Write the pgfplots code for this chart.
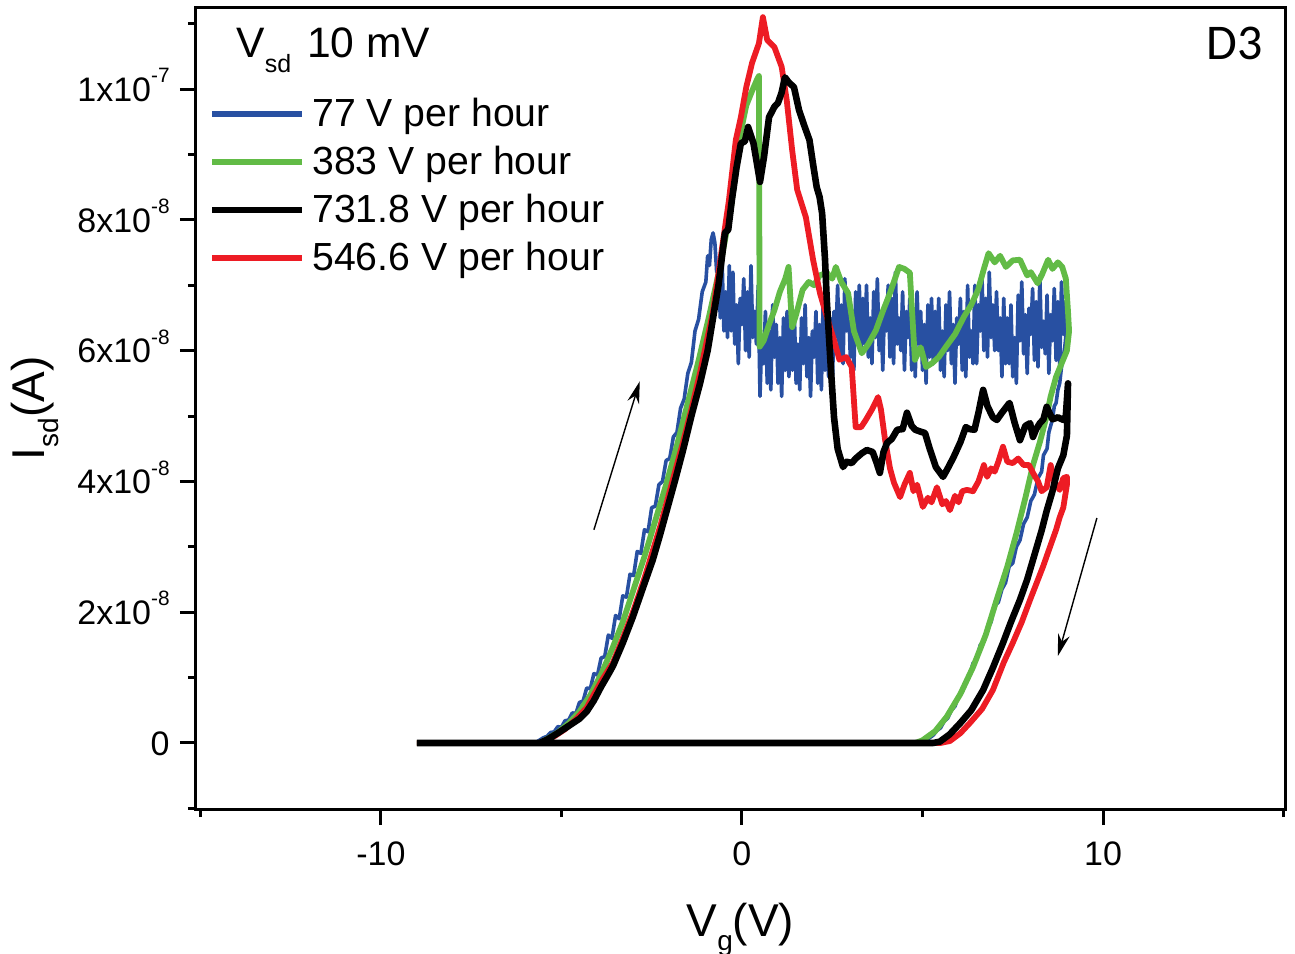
\documentclass[border=0pt]{standalone}
\usepackage{fontspec}
\setmainfont{Liberation Sans}
\newfontfamily\carlito{Carlito}
\usepackage{pgfplots}
\pgfplotsset{compat=1.18}
\usetikzlibrary{arrows.meta}
\definecolor{cblue}{RGB}{40,80,162}
\definecolor{cgreen}{RGB}{98,187,70}
\definecolor{cred}{RGB}{237,28,36}
\newcommand{\sci}[2]{#1x10\raisebox{9.3pt}{\fontsize{10.4}{10.4}\selectfont -#2}}
\begin{document}
\begin{tikzpicture}
\begin{axis}[
  scale only axis, width=544.5pt, height=400.5pt,
  xmin=-15.12, xmax=15.04, ymin=-10.1, ymax=112.4,
  axis line style={line width=1.5pt},
  every tick/.style={line width=1.5pt, black},
  tick align=outside, xtick pos=lower, ytick pos=left,
  major tick length=8pt, minor tick length=4pt,
  xtick={-10,0,10}, xticklabels={-10,0,10},
  minor xtick={-15,-5,5,15},
  ytick={0,20,40,60,80,100},
  yticklabels={0,\sci{2}{8},\sci{4}{8},\sci{6}{8},\sci{8}{8},\sci{1}{7}},
  minor ytick={-10,10,30,50,70,90,110},
  yticklabel style={font=\fontsize{17}{17}\selectfont, anchor=base east, inner sep=0pt, yshift=-6.1pt, xshift=-5pt},
  xticklabel style={font=\fontsize{17}{17}\selectfont, anchor=base, inner sep=0pt, yshift=-20pt},
  xlabel={V\raisebox{-7pt}{\fontsize{14}{14}\selectfont g}(V)},
  ylabel={I\raisebox{-7pt}{\fontsize{14}{14}\selectfont sd}(A)},
  xlabel style={font=\fontsize{23}{23}\selectfont, at={(axis description cs:0.5,-0.1586)}, anchor=base, inner sep=0pt},
  ylabel style={font=\fontsize{23}{23}\selectfont, at={(axis description cs:-0.1387,0.5)}, anchor=base, inner sep=0pt},
  legend style={at={(axis description cs:0.0119,0.8876)}, anchor=north west, draw=none, fill=none, inner sep=0pt,
    font=\fontsize{19.6}{19.6}\selectfont, row sep=6.0pt,
    nodes={inner sep=0pt, text height=14pt, text depth=4pt},
    /tikz/every odd column/.append style={column sep=3.5pt}},
  legend cell align=left,
  legend image code/.code={\draw[#1, line width=3pt] (0pt,1.3pt) -- (45pt,1.3pt);},
  every axis plot/.append style={line join=round},
]
\addlegendimage{cblue}
\addlegendentry{77 V per hour}
\addlegendimage{cgreen}
\addlegendentry{383 V per hour}
\addlegendimage{black}
\addlegendentry{731.8 V per hour}
\addlegendimage{cred}
\addlegendentry{546.6 V per hour}

% 77 V per hour (blue)
\addplot[forget plot, cblue, line width=1.8pt] coordinates {
(-9,0) (-6,0) (-5.7,0.1) (-5.5,0.8) (-5.4,1.0) (-5.3,1.6) (-5.2,1.7) (-5.1,2.5) (-5.0,2.4)
(-4.9,3.4) (-4.8,3.5) (-4.7,4.6) (-4.6,4.5) (-4.5,6.2) (-4.4,6.4) (-4.3,8.4) (-4.2,8.3)
(-4.1,10.6) (-4.0,10.4) (-3.9,13.0) (-3.8,13.2) (-3.7,16.5) (-3.6,16.0) (-3.5,19.5) (-3.4,19.0)
(-3.3,22.5) (-3.2,22.3) (-3.1,25.8) (-3.0,25.6) (-2.9,29.3) (-2.8,29.0) (-2.7,32.6) (-2.6,32.3)
(-2.5,36.0) (-2.4,36.2) (-2.3,39.5) (-2.2,40.0) (-2.1,43.2) (-2.0,43.5) (-1.9,46.8) (-1.8,47.5)
(-1.7,51.2) (-1.6,52.6) (-1.5,56.5) (-1.4,58.2) (-1.3,63.0) (-1.2,64.8) (-1.1,69.0) (-1.0,70.5)
(-0.95,74.5) (-0.9,73) (-0.85,77) (-0.8,78) (-0.75,76.5) (-0.7,72)
(-0.65,72) (-0.60,65) (-0.55,74) (-0.50,63) (-0.45,69) (-0.40,62) (-0.35,73) (-0.30,63)
(-0.25,72) (-0.20,61) (-0.15,67) (-0.10,58) (-0.05,68) (0.00,64) (0.05,71) (0.10,60)
(0.15,69) (0.20,59) (0.25,73) (0.30,62) (0.35,66) (0.40,61) (0.45,70) (0.50,53)
(0.55,62) (0.60,58) (0.65,66) (0.70,55) (0.75,63) (0.80,54) (0.85,67) (0.90,59)
(0.95,64) (1.00,55) (1.05,62) (1.10,53) (1.15,65) (1.20,57) (1.25,66) (1.30,56)
(1.35,64) (1.40,57) (1.45,66) (1.50,55) (1.55,61) (1.60,54) (1.65,65) (1.70,58)
(1.75,67) (1.80,56) (1.85,62) (1.90,53) (1.95,63) (2.00,59) (2.05,66) (2.10,55)
(2.15,64) (2.20,54) (2.25,68) (2.30,57) (2.35,61) (2.40,56) (2.45,65) (2.50,53)
(2.55,66) (2.60,62) (2.65,70) (2.70,59) (2.75,67) (2.80,58) (2.85,71) (2.90,63)
(2.95,68) (3.00,59) (3.05,66) (3.10,57) (3.15,69) (3.20,61) (3.25,70) (3.30,60)
(3.35,68) (3.40,61) (3.45,70) (3.50,59) (3.55,65) (3.60,58) (3.65,69) (3.70,62)
(3.75,71) (3.80,60) (3.85,66) (3.90,57) (3.95,67) (4.00,63) (4.05,70) (4.10,59)
(4.15,68) (4.20,58) (4.25,72) (4.30,61) (4.35,65) (4.40,60) (4.45,69) (4.50,57)
(4.55,66) (4.60,62) (4.65,68) (4.70,57) (4.75,65) (4.80,56) (4.85,69) (4.90,61)
(4.95,66) (5.00,57) (5.05,64) (5.10,55) (5.15,67) (5.20,59) (5.25,68) (5.30,58)
(5.35,66) (5.40,59) (5.45,68) (5.50,57) (5.55,63) (5.60,56) (5.65,67) (5.70,60)
(5.75,69) (5.80,58) (5.85,64) (5.90,55) (5.95,65) (6.00,61) (6.05,68) (6.10,57)
(6.15,66) (6.20,56) (6.25,70) (6.30,59) (6.35,63) (6.40,58) (6.45,70) (6.50,58)
(6.55,67) (6.60,63) (6.65,71) (6.70,60) (6.75,68) (6.80,59) (6.85,72) (6.90,62)
(6.95,67) (7.00,60) (7.05,69) (7.10,60) (7.15,65) (7.20,56) (7.25,68) (7.30,58)
(7.35,65) (7.40,58) (7.45,67) (7.50,56) (7.55,62) (7.60,55) (7.65,68.5) (7.70,61.5)
(7.75,70.5) (7.80,59.5) (7.85,65.5) (7.90,56.5) (7.95,66.5) (8.00,62.5) (8.05,69.5) (8.10,58.5)
(8.15,67.5) (8.20,57.5) (8.25,71.5) (8.30,60.5) (8.35,64.5) (8.40,59.5) (8.45,68.5) (8.50,56.5)
(8.55,65.5) (8.60,61.5) (8.65,69.5) (8.70,58.5) (8.75,67.5) (8.80,57.5) (8.85,70.5) (8.90,62.5)
(8.95,67.5) (9.00,64)
(8.95,61) (8.9,59) (8.85,57.5) (8.8,55) (8.75,54) (8.7,52) (8.65,51.5) (8.6,49.5) (8.5,47.5)
(8.45,45) (8.35,44) (8.3,41.5) (8.2,40.5) (8.1,38) (8.0,37) (7.9,34.5) (7.8,33.5) (7.7,31)
(7.6,30) (7.5,27.5) (7.4,27) (7.3,24.5) (7.2,23.5) (7.1,21.5) (7.0,21) (6.9,18.5) (6.8,17.5)
(6.7,15.5) (6.6,15) (6.5,12.8) (6.4,12.2) (6.3,10.3) (6.2,9.5) (6.1,7.8) (6.0,7.2) (5.9,5.6)
(5.8,5.0) (5.7,3.8) (5.6,3.3) (5.5,2.3) (5.4,1.9) (5.3,1.2) (5.2,0.8) (5.1,0.4) (5.0,0.1)
(4.9,0) (-9,0)
};

% 383 V per hour (green)
\addplot[forget plot, cgreen, line width=2.9pt] coordinates {
(-9,0) (-5.6,0) (-5.4,0.6) (-5.1,1.6) (-4.8,3) (-4.5,4.8) (-4.2,7.3) (-3.9,10.5) (-3.6,14.3)
(-3.3,18.5) (-3.0,23.5) (-2.7,28.5) (-2.4,34) (-2.1,39.5) (-1.8,45.5) (-1.5,52) (-1.2,58.5)
(-0.9,65.5) (-0.6,73) (-0.3,82) (-0.03,93.5) (0.12,97.5) (0.28,99.7) (0.42,101.5) (0.47,102)
(0.49,60.6) (0.6,61.5) (0.75,64) (0.9,66.2) (1.05,69) (1.2,71) (1.29,72.8) (1.39,63.6) (1.5,65.5)
(1.68,69.3) (1.85,70.5) (2.0,70) (2.15,71.5) (2.35,71.9) (2.5,71) (2.6,72.8) (2.75,70.5)
(2.94,68.8) (3.1,63) (3.32,59.6) (3.5,61) (3.71,63.1) (3.9,66) (4.1,68.8) (4.35,72.8) (4.5,72.5)
(4.65,71.9) (4.79,58.6) (4.95,60.5) (5.1,57.5) (5.27,58.1) (5.45,59) (5.65,60.6) (5.9,62.5)
(6.15,65.2) (6.35,67) (6.54,69.3) (6.7,72.5) (6.83,74.9) (7.0,73.5) (7.15,74.5) (7.31,72.8)
(7.5,73.8) (7.7,73.9) (7.9,71.5) (8.0,72) (8.19,70.3) (8.3,71.5) (8.48,73.9) (8.6,72.5)
(8.75,73.5) (8.87,72.8) (8.97,71) (9.03,66) (9.06,63)
(9.0,60) (8.85,58) (8.7,56) (8.55,53) (8.44,50) (8.25,46) (8.06,42.5) (7.85,37.5) (7.6,32)
(7.35,27) (7.06,22) (6.75,16.5) (6.4,11.6) (6.05,7.5) (5.67,4) (5.35,1.8) (5.0,0.4) (4.8,0) (-9,0)
};

% 546.6 V per hour (red)
\addplot[forget plot, cred, line width=2.9pt] coordinates {
(-9,0) (-5.6,0) (-5.4,0.5) (-5.2,1.0) (-4.9,2.1) (-4.6,3.6) (-4.3,5.4) (-3.9,9.4) (-3.57,12.3)
(-3.3,16) (-3.02,20) (-2.7,25.2) (-2.27,33) (-1.95,39.5) (-1.63,46) (-1.4,51) (-1.16,56.6)
(-0.8,66) (-0.53,76.5) (-0.36,83) (-0.17,92.2) (-0.03,95.7) (0.12,100.3) (0.28,104) (0.47,107)
(0.58,111) (0.7,107.5) (0.9,106.4) (1.1,103.4) (1.24,98.3) (1.39,90.7) (1.53,84.6) (1.77,80.4)
(1.97,73.9) (2.16,68.8) (2.35,65.2) (2.55,61.6) (2.7,58.6) (2.89,59) (3.04,57.5) (3.15,48.3)
(3.3,48.3) (3.43,49.4) (3.6,51) (3.77,52.9) (3.85,51) (3.96,46.5) (4.1,42) (4.21,39.8)
(4.38,37.6) (4.5,39.5) (4.65,41.3) (4.75,38.5) (4.85,39.5) (5.01,36.1) (5.15,37.5) (5.25,36.8)
(5.4,39.1) (5.55,36.5) (5.65,37) (5.76,35.6) (5.9,37.8) (6.0,36.8) (6.1,38.5) (6.23,38.7)
(6.4,38.5) (6.55,40) (6.7,42.5) (6.79,40.7) (6.9,42) (7.0,41.5) (7.1,43) (7.23,45.3) (7.35,43)
(7.5,42.8) (7.65,43.5) (7.8,42.5) (7.95,42.5) (8.06,41.3) (8.2,40) (8.3,38.5) (8.44,39.1)
(8.55,42.5) (8.65,40) (8.8,38.7) (8.9,40.5) (9.0,40.7)
(9.0,39.5) (8.9,36) (8.8,34.5) (8.7,32.6) (8.5,29.5) (8.34,27) (8.15,24.3) (7.98,21.9)
(7.75,18.5) (7.5,15.3) (7.25,12.3) (6.95,8.1) (6.65,5.2) (6.32,3.1) (6.05,1.5) (5.76,0.3)
(5.5,0) (-9,0)
};

% 731.8 V per hour (black)
\addplot[forget plot, black, line width=3.3pt] coordinates {
(-9,0) (-5.6,0) (-5.4,0.5) (-5.1,1.5) (-4.8,2.6) (-4.5,3.7) (-4.3,4.8) (-4.1,6.5) (-3.9,8.6)
(-3.7,10.5) (-3.57,11.8) (-3.3,15.3) (-3.02,19.3) (-2.75,23.6) (-2.47,28.0) (-2.27,31.8)
(-2.08,35.6) (-1.85,40.2) (-1.63,44.8) (-1.4,50) (-1.16,55) (-0.95,60) (-0.8,65) (-0.65,70)
(-0.55,74.5) (-0.47,78) (-0.38,78.5) (-0.28,83) (-0.15,88) (-0.03,91.7) (0.08,92) (0.17,94.2)
(0.32,91.7) (0.5,85.8) (0.61,89.6) (0.75,95.7) (0.9,97.3) (1.0,97.9) (1.1,99.5) (1.19,101.8)
(1.3,101) (1.44,100.3) (1.58,96.8) (1.72,94.5) (1.87,92.2) (1.97,88.5) (2.07,85) (2.15,83.5)
(2.22,81) (2.3,74) (2.35,67.7) (2.46,57.5) (2.55,49.8) (2.65,45) (2.8,42.2) (2.9,43) (3.04,42.8)
(3.15,43.5) (3.32,44.3) (3.46,44.8) (3.62,44.5) (3.72,43) (3.82,41.3) (3.92,44.5) (4.02,45.9)
(4.15,46.5) (4.3,47.9) (4.45,48) (4.57,50.5) (4.7,48.5) (4.8,47.9) (4.95,47.6) (5.07,47.4)
(5.2,45) (5.37,42.2) (5.57,40.7) (5.7,42) (5.86,43.7) (6.05,46) (6.2,48.3) (6.3,48) (6.44,47.9)
(6.55,50.5) (6.68,54) (6.8,51.5) (6.95,49.8) (7.06,49.4) (7.2,50.5) (7.41,52) (7.55,49)
(7.7,46.3) (7.85,48.5) (7.98,48.9) (8.06,46.8) (8.15,48) (8.25,48.9) (8.35,49.5) (8.44,51.4)
(8.6,49.5) (8.75,49.8) (8.9,49.4) (8.97,50) (9.03,55)
(9.0,47) (8.9,44) (8.75,42) (8.6,38.5) (8.44,35.5) (8.3,32.5) (8.06,28) (7.9,25) (7.7,21.9)
(7.45,18.5) (7.23,15.3) (6.95,11.5) (6.68,8.1) (6.35,5) (6.04,3) (5.75,1.3) (5.48,0.2) (5.3,0) (-9,0)
};

\draw[line width=0.7pt, -{Stealth[length=11pt,width=6pt]}] (axis cs:-4.1,32.6) -- (axis cs:-2.83,55.3);
\draw[line width=0.7pt, -{Stealth[length=11pt,width=6pt]}] (axis cs:9.83,34.4) -- (axis cs:8.75,13.3);

\node[anchor=base west, inner sep=0pt, font=\fontsize{21.3}{21.3}\selectfont] at (axis description cs:0.0367,0.9376)
  {V\raisebox{-7.5pt}{\fontsize{12.5}{12.5}\selectfont sd}\hspace{2pt} 10 mV};
\node[anchor=base east, inner sep=0pt, font=\carlito\fontsize{25}{25}\selectfont] at (axis description cs:0.9798,0.9363) {D3};
\end{axis}
\pgfresetboundingbox
\path[use as bounding box] ([shift={(-98pt,-72pt)}]current axis.south west) rectangle ([shift={(5pt,4pt)}]current axis.north east);
\end{tikzpicture}
\end{document}
